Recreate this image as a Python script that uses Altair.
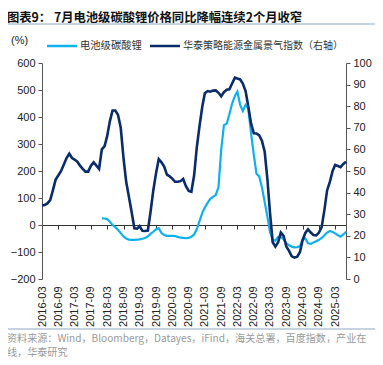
import altair as alt
import pandas as pd

months = pd.date_range("2016-03-01", "2025-07-01", freq="MS")

# 华泰策略能源金属景气指数（右轴）, 2016-03 .. 2025-07
index_vals = [
    34, 34.3, 35, 36.5, 41, 46, 48, 50, 53, 56, 58, 56,
    55.3, 54.3, 52.5, 51, 49.7, 49.7, 52.5, 54, 52.5, 51, 60, 61.5,
    66, 73, 78, 78, 76, 70, 56, 45, 38, 31, 23.5, 23.3,
    24.5, 22.3, 22.2, 22.4, 31, 41, 49, 55.5, 54, 52, 48.3, 47.5,
    46.5, 45, 45, 45.3, 46.3, 43, 40.8, 40.4, 48, 61, 71, 80,
    86, 87, 86.7, 87.2, 87.3, 86.2, 84.6, 86.5, 87.6, 87.8, 90.5, 93.2,
    92.8, 92.4, 90.5, 87, 80, 72, 67.5, 67.4, 66.5, 64, 59, 46,
    31, 17, 15, 17, 21.5, 20, 15, 13, 10.5, 9.9, 10.3, 12.5,
    18, 21.3, 23, 21.5, 20.4, 20.2, 21.5, 24, 32, 41, 45, 50,
    52.8, 52.3, 51.8, 53.3, 54.3,
]

# 电池级碳酸锂 同比(%), starts 2018-01
lithium_vals = [None] * 22 + [
    24.7, 24,
    22, 12, 0, -8, -18, -30, -42, -50, -54, -55, -55, -54,
    -53, -51, -48, -42, -33, -25, -16, -12, -30, -37, -40, -40,
    -40, -41, -44, -47, -48, -49, -48, -44, -35, -15, 15, 45,
    65, 82, 97, 104, 111, 140, 280, 370, 375, 410, 450, 478,
    494, 445, 422, 445, 432, 340, 260, 190, 180, 140, 85, 30,
    -25, -55, -58, -44, -45, -52, -68, -75, -80, -83, -82, -78,
    -55, -50, -68, -70, -65, -60, -55, -48, -38, -28, -22, -26,
    -31, -38, -43, -35, -25,
]

tick_dates = pd.date_range("2016-03-01", "2025-03-01", freq="6MS")

df = pd.DataFrame({"date": months, "index": index_vals, "lithium": lithium_vals})
df_l = df.dropna(subset=["lithium"])

LIGHT = "#0FB0EE"
DARK = "#0A2C6A"
NUMFONT = "Liberation Sans"
CJK = "Noto Sans CJK SC"

W, H = 304, 216
x_dom = [pd.Timestamp("2016-03-01").isoformat(), pd.Timestamp("2025-07-01").isoformat()]

xscale = alt.Scale(domain=x_dom)
x_axis = alt.Axis(
    values=[d.isoformat() for d in tick_dates],
    format="%Y-%m",
    labelAngle=-90,
    labelOverlap=False,
    labelBound=False,
    labelFlush=False,
    title=None,
    offset=-54,
    tickSize=4,
    labelPadding=57,
    grid=False,
    domainColor="#333333",
    tickColor="#333333",
    labelColor="#222222",
    labelFont=NUMFONT,
    labelFontSize=11,
)
x_enc = alt.X("date:T", scale=xscale, axis=x_axis)

lith = alt.Chart(df_l).mark_line(color=LIGHT, strokeWidth=2.2).encode(
    x=x_enc,
    y=alt.Y(
        "lithium:Q",
        scale=alt.Scale(domain=[-200, 600], nice=False),
        axis=alt.Axis(
            values=list(range(-200, 601, 100)),
            title=None,
            grid=False,
            tickSize=4,
            labelPadding=3,
            labelOverlap=False,
            domainColor="#555555",
            tickColor="#555555",
            labelColor="#222222",
            labelFont=NUMFONT,
            labelFontSize=11,
        ),
    ),
)

idx = alt.Chart(df).mark_line(color=DARK, strokeWidth=2.6).encode(
    x=x_enc,
    y=alt.Y(
        "index:Q",
        scale=alt.Scale(domain=[0, 100], nice=False),
        axis=alt.Axis(
            orient="right",
            values=list(range(0, 101, 10)),
            title=None,
            grid=False,
            tickSize=4,
            labelPadding=3,
            labelOverlap=False,
            domainColor="#555555",
            tickColor="#555555",
            labelColor="#222222",
            labelFont=NUMFONT,
            labelFontSize=11,
        ),
    ),
)

one = pd.DataFrame({"a": [0]})


def txt(s, x, y, size, color, font, weight="normal"):
    return alt.Chart(pd.DataFrame({"t": [s]})).mark_text(
        align="left", baseline="middle", fontSize=size, color=color, font=font, fontWeight=weight
    ).encode(text="t:N", x=alt.value(x), y=alt.value(y))


def hline(x1, x2, y, color, width):
    return alt.Chart(one).mark_rule(color=color, strokeWidth=width).encode(
        x=alt.value(x1), x2=alt.value(x2), y=alt.value(y)
    )


title = txt("图表9：  7月电池级碳酸锂价格同比降幅连续2个月收窄", -35, -45, 12.3, "#111111", CJK, "bold")
topline = hline(-35, 336, -39, "#8FA8C0", 1.2)
pct = txt("(%)", -31, -22, 11, "#222222", NUMFONT)
leg1 = hline(5, 35, -17, LIGHT, 2.5)
leg1t = txt("电池级碳酸锂", 38, -17, 10.3, "#333333", CJK)
leg2 = hline(108, 138, -17, DARK, 2.5)
leg2t = txt("华泰策略能源金属景气指数（右轴）", 141, -17, 10, "#333333", CJK)
botline = hline(-35, 336, 266, "#8FA8C0", 1.2)
src1 = txt("资料来源：Wind，Bloomberg，Datayes，iFind，海关总署，百度指数，产业在", -35, 276, 10.1, "#9A9A9A", CJK)
src2 = txt("线，华泰研究", -35, 290, 10.1, "#9A9A9A", CJK)

chart = (
    alt.layer(lith, idx, title, topline, pct, leg1, leg1t, leg2, leg2t, botline, src1, src2)
    .resolve_scale(y="independent")
    .properties(
        width=W,
        height=H,
        padding={"left": 34, "top": 55, "right": 29, "bottom": 86},
        autosize=alt.AutoSizeParams(type="none"),
        background="white",
    )
    .configure_view(stroke=None)
)

chart.save("out.html", embed_options={"renderer": "svg", "actions": False})
